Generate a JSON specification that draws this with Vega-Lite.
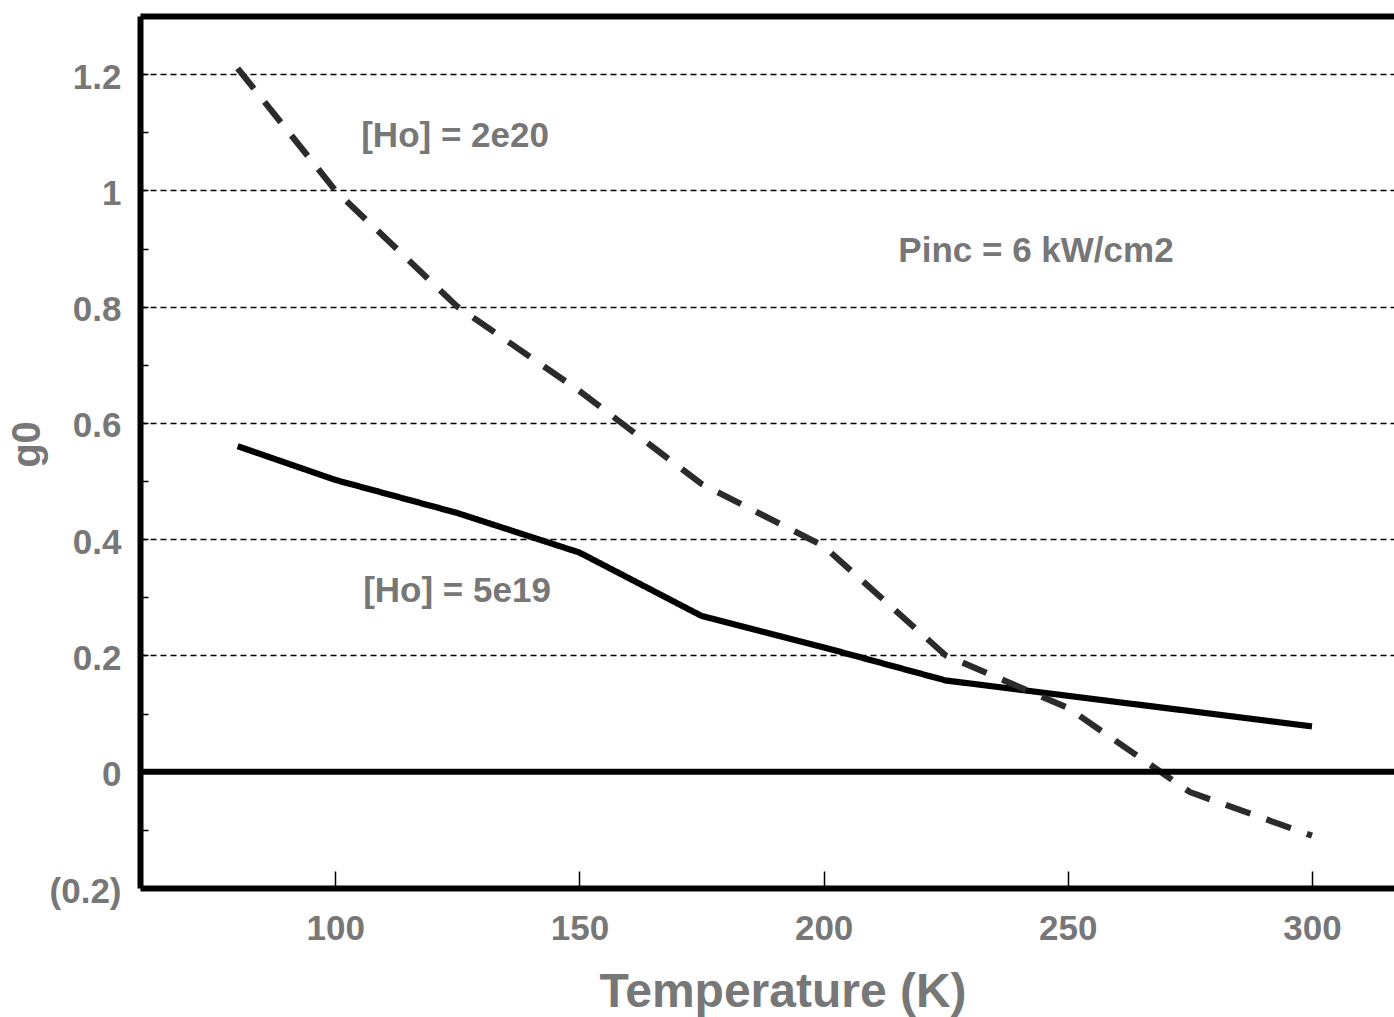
{
  "$schema": "https://vega.github.io/schema/vega-lite/v6.json",
  "width": 1254,
  "height": 872,
  "autosize": {"type": "none"},
  "padding": {"left": 140, "top": 16, "right": 0, "bottom": 129},
  "background": "white",
  "config": {"view": {"stroke": null}, "font": "Liberation Sans"},
  "datasets": {
    "curves": [
      {"T": 80, "g0": 0.56, "Ho": "5e19"},
      {"T": 100, "g0": 0.502, "Ho": "5e19"},
      {"T": 125, "g0": 0.445, "Ho": "5e19"},
      {"T": 150, "g0": 0.377, "Ho": "5e19"},
      {"T": 175, "g0": 0.268, "Ho": "5e19"},
      {"T": 200, "g0": 0.214, "Ho": "5e19"},
      {"T": 225, "g0": 0.157, "Ho": "5e19"},
      {"T": 300, "g0": 0.078, "Ho": "5e19"},
      {"T": 80, "g0": 1.21, "Ho": "2e20"},
      {"T": 100, "g0": 1.0, "Ho": "2e20"},
      {"T": 125, "g0": 0.8, "Ho": "2e20"},
      {"T": 150, "g0": 0.655, "Ho": "2e20"},
      {"T": 175, "g0": 0.495, "Ho": "2e20"},
      {"T": 200, "g0": 0.388, "Ho": "2e20"},
      {"T": 225, "g0": 0.2, "Ho": "2e20"},
      {"T": 250, "g0": 0.11, "Ho": "2e20"},
      {"T": 275, "g0": -0.035, "Ho": "2e20"},
      {"T": 300, "g0": -0.11, "Ho": "2e20"}
    ],
    "notes": [
      {"T": 105.3, "g0": 1.075, "label": "[Ho] = 2e20"},
      {"T": 215.3, "g0": 0.877, "label": "Pinc = 6 kW/cm2"},
      {"T": 105.7, "g0": 0.292, "label": "[Ho] = 5e19"}
    ],
    "zero": [{"g0": 0}]
  },
  "layer": [
    {
      "data": {"name": "curves"},
      "mark": {"type": "line", "strokeWidth": 6.2, "strokeCap": "butt"},
      "encoding": {
        "x": {
          "field": "T", "type": "quantitative",
          "scale": {"domain": [60, 316.8], "nice": false, "zero": false},
          "axis": {
            "orient": "bottom", "values": [100, 150, 200, 250, 300],
            "title": "Temperature (K)", "titleFontSize": 48, "titleFontWeight": "bold", "titleColor": "#777777",
            "titleX": 642.5, "titleY": 118, "titleBaseline": "alphabetic", "titleAlign": "center",
            "labelFontSize": 35, "labelFontWeight": "bold", "labelColor": "#777777",
            "labelPadding": 40, "labelFlush": false, "labelOverlap": false,
            "tickSize": -17, "tickWidth": 1.5, "tickColor": "black",
            "domainColor": "black", "domainWidth": 6, "grid": false
          }
        },
        "y": {
          "field": "g0", "type": "quantitative",
          "scale": {"domain": [-0.2, 1.3], "nice": false, "zero": false},
          "axis": {
            "values": [-0.2, -0.1, 0, 0.1, 0.2, 0.3, 0.4, 0.5, 0.6, 0.7, 0.8, 0.9, 1, 1.1, 1.2],
            "title": "g0", "titleFontSize": 40, "titleFontWeight": "bold", "titleColor": "#777777",
            "titleX": -113, "titleY": 428, "titleAngle": -90, "titleAlign": "center", "titleBaseline": "middle",
            "labelExpr": "abs(round(datum.value*10)) % 2 == 1 ? '' : (datum.value < 0 ? '(' + format(-datum.value, '.1f') + ')' : format(datum.value, '~g'))",
            "labelFontSize": 35, "labelFontWeight": "bold", "labelColor": "#777777",
            "labelPadding": 27, "labelOffset": 3, "labelFlush": false, "labelOverlap": false, "labelBound": false,
            "tickSize": -8, "tickWidth": 1.5, "tickColor": "black",
            "domainColor": "black", "domainWidth": 6,
            "grid": true, "gridColor": "black", "gridDash": [6, 4], "gridWidth": 1.3,
            "gridOpacity": {"condition": {"test": "abs(round(datum.value*10)) % 2 == 0 && datum.value > 0.05", "value": 1}, "value": 0}
          }
        },
        "strokeDash": {
          "field": "Ho", "type": "nominal",
          "scale": {"domain": ["5e19", "2e20"], "range": [[1, 0], [26, 17]]},
          "legend": null
        },
        "color": {
          "field": "Ho", "type": "nominal",
          "scale": {"domain": ["5e19", "2e20"], "range": ["#000000", "#2b2b2b"]},
          "legend": null
        }
      }
    },
    {
      "data": {"name": "zero"},
      "mark": {"type": "rule", "strokeWidth": 6, "color": "black"},
      "encoding": {"y": {"field": "g0", "type": "quantitative"}}
    },
    {
      "data": {"name": "notes"},
      "mark": {"type": "text", "align": "left", "baseline": "alphabetic", "fontSize": 35, "fontWeight": "bold", "color": "#777777"},
      "encoding": {
        "x": {
          "field": "T", "type": "quantitative",
          "axis": {"orient": "top", "labels": false, "ticks": false, "title": null, "domainColor": "black", "domainWidth": 6, "grid": false}
        },
        "y": {"field": "g0", "type": "quantitative"},
        "text": {"field": "label"}
      }
    }
  ],
  "resolve": {"axis": {"x": "independent"}}
}
